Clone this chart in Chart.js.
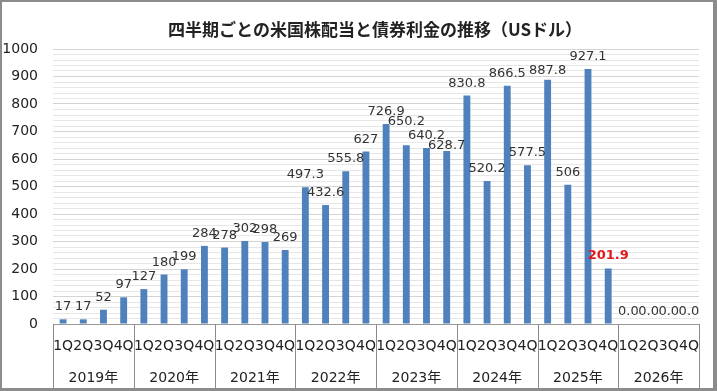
<!DOCTYPE html>
<html lang="ja">
<head>
  <meta charset="UTF-8">
  <title>四半期ごとの米国株配当と債券利金の推移</title>
  <script src="https://cdn.jsdelivr.net/npm/chart.js"></script>
  <style>
    html, body { margin: 0; padding: 0; background: #fff; }
    .frame {
      width: 717px;
      height: 391px;
      box-sizing: border-box;
      border-style: solid;
      border-color: #8c8c8c;
      border-width: 2px 4px 3px 2px;
      background: #fff;
    }
    .frame canvas { display: block; }
  </style>
</head>
<body>
  <div class="frame">
    <canvas id="incomeChart" width="711" height="386"></canvas>
  </div>

  <script>
    const chartTitle = '四半期ごとの米国株配当と債券利金の推移（USドル）';
    const years = ['2019年', '2020年', '2021年', '2022年', '2023年', '2024年', '2025年', '2026年'];
    const quarters = ['1Q', '2Q', '3Q', '4Q'];
    // quarterly amounts, 2019 1Q .. 2026 4Q
    const income = [
      17, 17, 52, 97,
      127, 180, 199, 284,
      278, 302, 298, 269,
      497.3, 432.6, 555.8, 627,
      726.9, 650.2, 640.2, 628.7,
      830.8, 520.2, 866.5, 577.5,
      887.8, 506, 927.1, 201.9,
      0, 0, 0, 0
    ];
    const highlightIndex = 27; // latest quarter, shown in red
    const yTicks = [0, 100, 200, 300, 400, 500, 600, 700, 800, 900, 1000];

    const quarterLabels = years.flatMap(() => quarters);
    const numFont = "'DejaVu Sans', 'Noto Sans CJK JP', sans-serif";

    // labels that were moved by hand in the original sheet (px, + = down)
    const labelNudge = { 17: -11, 19: 7, 24: 3 };

    function fmt(v) {
      return v === 0 ? '0.0' : String(v);
    }

    // value labels above the bars
    const valueLabels = {
      id: 'valueLabels',
      afterDatasetsDraw(chart) {
        const ctx = chart.ctx;
        const meta = chart.getDatasetMeta(0);
        ctx.save();
        ctx.textAlign = 'center';
        ctx.textBaseline = 'alphabetic';
        meta.data.forEach((bar, i) => {
          if (i === highlightIndex) {
            ctx.font = 'bold 13px ' + numFont;
            ctx.fillStyle = '#e0191b';
          } else {
            ctx.font = '13px ' + numFont;
            ctx.fillStyle = '#333';
          }
          ctx.fillText(fmt(income[i]), bar.x, bar.y - 9 + (labelNudge[i] || 0));
        });
        ctx.restore();
      }
    };

    // year boxes under the axis + title over the plot area
    const axisBoxes = {
      id: 'axisBoxes',
      afterDraw(chart) {
        const ctx = chart.ctx;
        const xs = chart.scales.x;
        const x2 = chart.scales.x2;
        const area = chart.chartArea;
        ctx.save();
        ctx.strokeStyle = '#8c8c8c';
        ctx.lineWidth = 1;
        ctx.beginPath();
        for (let i = 0; i <= years.length; i++) {
          const px = Math.round(xs.getPixelForValue(i * quarters.length - 0.5)) + 0.5;
          ctx.moveTo(px, area.bottom);
          ctx.lineTo(px, x2.bottom);
        }
        ctx.stroke();

        ctx.font = "bold 17px 'Noto Sans CJK JP', sans-serif";
        ctx.fillStyle = '#222';
        ctx.textAlign = 'center';
        ctx.textBaseline = 'middle';
        ctx.fillText(chartTitle, (area.left + area.right) / 2 - 1, 28);
        ctx.restore();
      }
    };

    const ctx = document.getElementById('incomeChart').getContext('2d');
    new Chart(ctx, {
      type: 'bar',
      data: {
        labels: quarterLabels,
        datasets: [{
          data: income,
          backgroundColor: '#4f81bd',
          barPercentage: 0.34,
          categoryPercentage: 1.0,
          xAxisID: 'x',
          yAxisID: 'y'
        }]
      },
      options: {
        responsive: false,
        animation: false,
        layout: { padding: { top: 47, right: 5, left: 0, bottom: 0 } },
        plugins: {
          legend: { display: false },
          title: { display: false },
          tooltip: { enabled: false }
        },
        scales: {
          x: {
            type: 'category',
            position: 'bottom',
            weight: 0,
            offset: true,
            grid: { display: false, drawTicks: false },
            border: { display: true, color: '#999', width: 1 },
            ticks: {
              autoSkip: false,
              maxRotation: 0,
              padding: 14,
              color: '#222',
              font: { family: numFont, size: 14 }
            },
            afterFit(scale) { scale.height = 40; }
          },
          x2: {
            type: 'category',
            position: 'bottom',
            weight: 1,
            labels: years,
            offset: true,
            grid: { display: false, drawTicks: false },
            border: { display: false },
            ticks: {
              autoSkip: false,
              maxRotation: 0,
              padding: 6,
              color: '#222',
              font: { family: numFont, size: 14 }
            },
            afterFit(scale) { scale.height = 24; }
          },
          y: {
            min: yTicks[0],
            max: yTicks[yTicks.length - 1],
            border: { display: false },
            grid: {
              drawTicks: false,
              color: (c) => (c.tick && c.tick.value % 100 === 0) ? '#d4d4d4' : '#e6e6e6'
            },
            ticks: {
              stepSize: 20,
              autoSkip: false,
              maxTicksLimit: 100,
              padding: 15,
              color: '#222',
              font: { family: numFont, size: 14 },
              callback: (v) => yTicks.includes(v) ? String(v) : ''
            },
            afterFit(scale) { scale.width = 51; }
          }
        }
      },
      plugins: [valueLabels, axisBoxes]
    });
  </script>
</body>
</html>
